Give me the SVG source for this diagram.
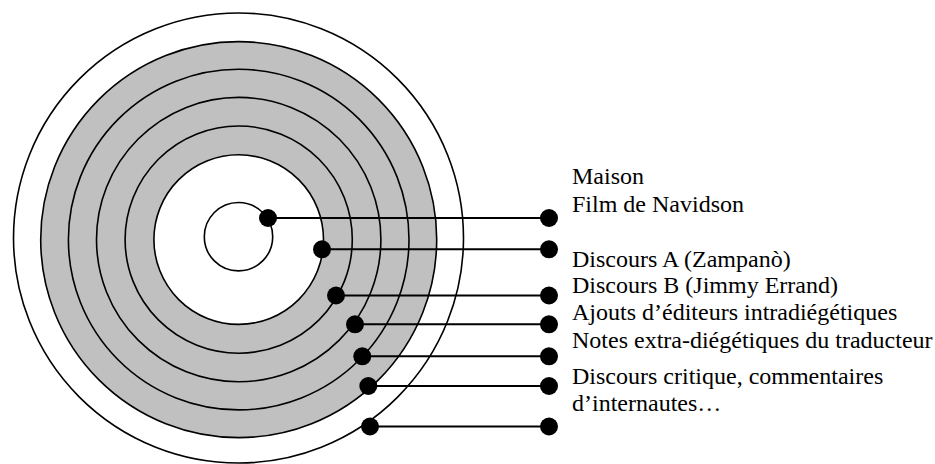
<svg xmlns="http://www.w3.org/2000/svg" width="935" height="464" viewBox="0 0 935 464">
<style>
.ring{fill:none;stroke:#000;stroke-width:1.6}
.conn line{stroke:#000;stroke-width:2}
.dot{fill:#000}
.lbl text{font-family:'Liberation Serif','Times New Roman',Tinos,'DejaVu Serif',serif;font-size:24px;fill:#000}
</style>
<rect width="935" height="464" fill="#fff"/>
<g id="outer"><circle class="ring" cx="238.5" cy="238" r="225"/></g>
<g id="gray-band"><circle cx="238.7" cy="239.6" r="198" fill="#c0c0c0" stroke="#000" stroke-width="1.6"/></g>
<g id="ring-2"><circle class="ring" cx="238.7" cy="239.6" r="170.3"/></g>
<g id="ring-3"><circle class="ring" cx="238.7" cy="239.6" r="142.2"/></g>
<g id="ring-4"><circle class="ring" cx="238.7" cy="239.6" r="113.6"/></g>
<g id="inner-disk"><circle cx="238.7" cy="239.6" r="84.8" fill="#fff" stroke="#000" stroke-width="1.6"/></g>
<g id="maison"><circle class="ring" cx="238.5" cy="236.7" r="34.2"/></g>
<g id="connectors" class="conn">
<line x1="268" y1="218" x2="549" y2="218"/>
<line x1="322" y1="249.3" x2="549" y2="249.3"/>
<line x1="336" y1="295.5" x2="549" y2="295.5"/>
<line x1="355" y1="324.3" x2="549" y2="324.3"/>
<line x1="362.3" y1="356.3" x2="549" y2="356.3"/>
<line x1="368.3" y1="386" x2="549" y2="386"/>
<line x1="370" y1="426.5" x2="549" y2="426.5"/>
<g class="dot">
<circle cx="268" cy="218" r="9"/>
<circle cx="322" cy="249.3" r="9"/>
<circle cx="336" cy="295.5" r="9"/>
<circle cx="355" cy="324.3" r="9"/>
<circle cx="362.3" cy="356.3" r="9"/>
<circle cx="368.3" cy="386" r="9"/>
<circle cx="370" cy="426.5" r="9"/>
<circle cx="549" cy="218" r="9"/>
<circle cx="549" cy="249.3" r="9"/>
<circle cx="549" cy="295.5" r="9"/>
<circle cx="549" cy="324.3" r="9"/>
<circle cx="549" cy="356.3" r="9"/>
<circle cx="549" cy="386" r="9"/>
<circle cx="549" cy="426.5" r="9"/>
</g>
</g>
<g id="labels" class="lbl">
<text x="572" y="184" font-family="Liberation Serif, serif">Maison</text>
<text x="572" y="211.5">Film de Navidson</text>
<text x="572" y="266.5">Discours A (Zampanò)</text>
<text x="572" y="293">Discours B (Jimmy Errand)</text>
<text x="572" y="320">Ajouts d’éditeurs intradiégétiques</text>
<text x="572" y="347.5">Notes extra-diégétiques du traducteur</text>
<text x="572" y="383.5">Discours critique, commentaires</text>
<text x="572" y="410.5">d’internautes…</text>
</g>
</svg>
